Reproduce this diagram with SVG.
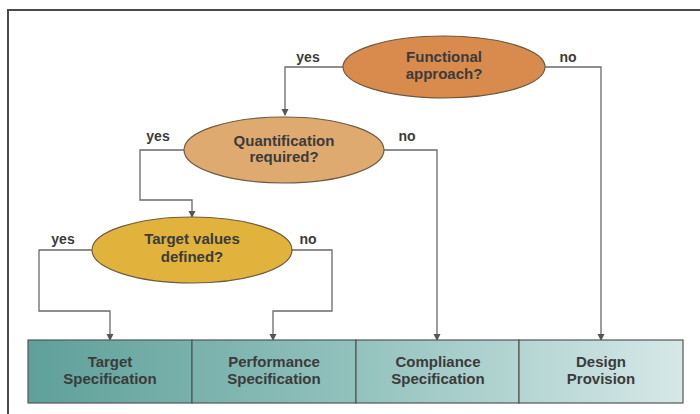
<svg xmlns="http://www.w3.org/2000/svg" width="700" height="414" viewBox="0 0 700 414">
  <defs>
    <linearGradient id="strip" gradientUnits="userSpaceOnUse" x1="28" y1="0" x2="683" y2="0">
      <stop offset="0" stop-color="#5fa09a"/>
      <stop offset="0.5" stop-color="#93c2bd"/>
      <stop offset="1" stop-color="#d6e8e8"/>
    </linearGradient>
    <marker id="arr" markerWidth="8" markerHeight="8" refX="6" refY="3.5" orient="auto" markerUnits="userSpaceOnUse">
      <path d="M0,0 L7,3.5 L0,7 Z" fill="#555"/>
    </marker>
    <style>
      .lbl { font-family: "Liberation Sans", Arial, sans-serif; font-weight: bold; font-size: 15px; fill: #3b3b3b; text-anchor: middle; }
      .yn { font-family: "Liberation Sans", Arial, sans-serif; font-weight: bold; font-size: 14px; fill: #3b3b3b; text-anchor: middle; }
      .ell { stroke: #6e5a3e; stroke-width: 1.2; }
      .box { fill: url(#strip); stroke: #555; stroke-width: 1.2; }
      .con { fill: none; stroke: #6a6a6a; stroke-width: 1.3; }
    </style>
  </defs>
  <rect width="700" height="414" fill="#fff"/>
  <path d="M8,414 V10 H700" fill="none" stroke="#4a4a4a" stroke-width="2"/>

  <g id="connectors">
    <path class="con" d="M343,67 H285 V115" marker-end="url(#arr)"/>
    <path class="con" d="M545,67 H601 V340" marker-end="url(#arr)"/>
    <path class="con" d="M184,150 H140 V200 H192 V217" marker-end="url(#arr)"/>
    <path class="con" d="M384,150 H437 V340" marker-end="url(#arr)"/>
    <path class="con" d="M92,250 H39 V311 H110 V340" marker-end="url(#arr)"/>
    <path class="con" d="M292,250 H332 V311 H273 V340" marker-end="url(#arr)"/>
    <text class="yn" x="308" y="62">yes</text>
    <text class="yn" x="568" y="62">no</text>
    <text class="yn" x="158" y="141">yes</text>
    <text class="yn" x="407" y="141">no</text>
    <text class="yn" x="63" y="244">yes</text>
    <text class="yn" x="308" y="244">no</text>
  </g>

  <g id="functional">
    <ellipse class="ell" cx="444" cy="67" rx="101" ry="31" fill="#d98b4e"/>
    <text class="lbl" x="444" y="62">Functional</text>
    <text class="lbl" x="444" y="79">approach?</text>
  </g>
  <g id="quantification">
    <ellipse class="ell" cx="284" cy="150" rx="100" ry="33" fill="#dfaa6f"/>
    <text class="lbl" x="284" y="146">Quantification</text>
    <text class="lbl" x="284" y="162">required?</text>
  </g>
  <g id="target-values">
    <ellipse class="ell" cx="192" cy="250" rx="100" ry="33" fill="#e1b33d"/>
    <text class="lbl" x="192" y="244">Target values</text>
    <text class="lbl" x="192" y="262">defined?</text>
  </g>

  <g id="target-spec">
    <rect class="box" x="28" y="340" width="164" height="63"/>
    <text class="lbl" x="110" y="367">Target</text>
    <text class="lbl" x="110" y="384">Specification</text>
  </g>
  <g id="performance-spec">
    <rect class="box" x="192" y="340" width="164" height="63"/>
    <text class="lbl" x="274" y="367">Performance</text>
    <text class="lbl" x="274" y="384">Specification</text>
  </g>
  <g id="compliance-spec">
    <rect class="box" x="356" y="340" width="163" height="63"/>
    <text class="lbl" x="438" y="367">Compliance</text>
    <text class="lbl" x="438" y="384">Specification</text>
  </g>
  <g id="design-provision">
    <rect class="box" x="519" y="340" width="164" height="63"/>
    <text class="lbl" x="601" y="367">Design</text>
    <text class="lbl" x="601" y="384">Provision</text>
  </g>
</svg>
